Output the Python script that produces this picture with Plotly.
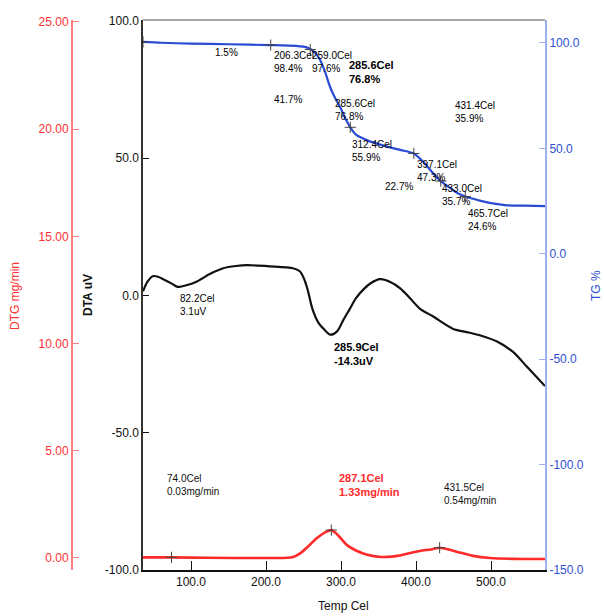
import numpy as np
import plotly.graph_objects as go

# ---------------- data ----------------
# TG curve (Temp Cel, TG %)
tg_temp = [36, 60, 100, 150, 206.3, 240, 255, 265, 272, 279, 285.6, 292, 299, 306, 312.4,
           320, 335, 350, 365, 380, 397.1, 410, 423, 433.0, 445, 455, 465.7, 475, 485,
           500, 521, 545, 572]
tg_val = [100.5, 100.1, 99.7, 99.4, 99.0, 98.6, 97.8, 95.5, 92.0, 86.0, 79.0, 74.0, 69.5,
          64.0, 60.0, 56.5, 53.8, 52.0, 50.5, 49.2, 47.6, 43.5, 38.1, 34.5, 31.4, 28.8,
          27.2, 26.2, 25.2, 24.0, 23.0, 22.8, 22.6]

# DTA curve (Temp Cel, uV)
dta_temp = [36, 42, 49, 56, 63, 75, 82.2, 95, 108, 125, 143, 160, 175, 205, 236, 245,
            250, 255, 262, 270, 278, 285.9, 295, 303, 312, 320, 330, 340, 352, 365, 379,
            392, 405, 423, 449, 470, 485, 508, 529, 548, 572]
dta_val = [1.5, 5.0, 7.0, 6.8, 5.9, 4.2, 3.1, 3.8, 5.1, 7.8, 9.9, 10.7, 11.0, 10.6, 9.9,
           8.8, 6.5, 2.6, -5.0, -10.0, -12.5, -14.3, -13.0, -9.0, -4.8, -1.0, 2.2, 4.5,
           5.9, 5.0, 2.6, -1.0, -4.8, -7.7, -12.1, -13.5, -14.5, -16.8, -20.5, -26.0, -33.0]

# DTG curve (Temp Cel, mg/min)
dtg_temp = [36, 74, 120, 200, 235, 245, 255, 268, 280, 287.1, 295, 308, 320, 335, 350,
            362, 375, 388, 405, 420, 431.5, 445, 460, 476, 499, 530, 572]
dtg_val = [0.03, 0.03, 0.01, 0.0, 0.03, 0.2, 0.5, 0.93, 1.22, 1.30, 1.1, 0.6, 0.35, 0.15,
           0.06, 0.05, 0.1, 0.2, 0.33, 0.4, 0.48, 0.38, 0.24, 0.1, 0.0, -0.04, -0.05]

# analysis markers
tg_mark_temp = [36, 206.3, 259.0, 312.4, 397.1, 433.0, 465.7]
dtg_mark_temp = [74.0, 287.1, 431.5]

# TG text labels: (text, Temp, TG, bold)
tg_labels = [
    ("1.5%", 129, 95.3, False),
    ("206.3Cel<br>98.4%", 208, 91.2, False),
    ("259.0Cel<br>97.6%", 259, 91.0, False),
    ("285.6Cel<br>76.8%", 308, 86.0, True),
    ("41.7%", 208, 73.0, False),
    ("285.6Cel<br>76.8%", 289.5, 68.2, False),
    ("312.4Cel<br>55.9%", 312, 48.6, False),
    ("397.1Cel<br>47.3%", 398.7, 39.5, False),
    ("22.7%", 356, 31.7, False),
    ("433.0Cel<br>35.7%", 432, 28.1, False),
    ("465.7Cel<br>24.6%", 466.7, 16.2, False),
    ("431.4Cel<br>35.9%", 449.3, 67.2, False),
]
dta_labels = [
    ("82.2Cel<br>3.1uV", 82.7, -3.5, False),
    ("285.9Cel<br>-14.3uV", 288, -21.4, True),
]
dtg_labels = [
    ("74.0Cel<br>0.03mg/min", 65.3, 3.4, False, "#111111"),
    ("287.1Cel<br>1.33mg/min", 294.7, 3.4, True, "#ff2b2b"),
    ("431.5Cel<br>0.54mg/min", 434.7, 3.0, False, "#111111"),
]

x_ticks = [100, 200, 300, 400, 500]
dta_ticks = [-100, -50, 0, 50, 100]
tg_ticks = [-150, -100, -50, 0, 50, 100]
dtg_ticks = [0, 5, 10, 15, 20, 25]

# ---------------- figure ----------------
FONT = "Liberation Sans, Arial, sans-serif"
RED = "#ff3030"
RED_AX = "#ff8080"
BLUE = "#2f4fd0"
BLUE_AX = "#9fb0f0"
BLACK = "#111111"

W, H = 604, 616
PT, PB = 20, 570           # plot top / bottom in pixels
x0, x1 = 143 / W, 545 / W


def py(pix):
    return (PB - pix) / (PB - PT)


fig = go.Figure()

fig.add_trace(go.Scatter(x=dtg_temp, y=dtg_val, mode="lines", yaxis="y3",
                         line=dict(color="#ff2a2a", width=2.6, shape="spline", smoothing=0.8),
                         hoverinfo="skip", showlegend=False))
fig.add_trace(go.Scatter(x=dta_temp, y=dta_val, mode="lines", yaxis="y",
                         line=dict(color=BLACK, width=2.2, shape="spline", smoothing=0.8),
                         hoverinfo="skip", showlegend=False))
fig.add_trace(go.Scatter(x=tg_temp, y=tg_val, mode="lines", yaxis="y2",
                         line=dict(color="#2a4bd4", width=2.2, shape="spline", smoothing=0.6),
                         hoverinfo="skip", showlegend=False))

fig.add_trace(go.Scatter(x=tg_mark_temp, y=np.interp(tg_mark_temp, tg_temp, tg_val),
                         mode="markers", yaxis="y2",
                         marker=dict(symbol="cross-thin", size=8, line=dict(color="#444", width=1)),
                         hoverinfo="skip", showlegend=False))
fig.add_trace(go.Scatter(x=dtg_mark_temp, y=np.interp(dtg_mark_temp, dtg_temp, dtg_val),
                         mode="markers", yaxis="y3",
                         marker=dict(symbol="cross-thin", size=8, line=dict(color="#444", width=1)),
                         hoverinfo="skip", showlegend=False))

annotations = []
for text, tx, ty, bold in tg_labels:
    annotations.append(dict(x=tx, y=ty, xref="x", yref="y2", text=f"<b>{text}</b>" if bold else text,
                            showarrow=False, xanchor="left", yanchor="middle", align="left",
                            font=dict(family=FONT, size=11 if bold else 10, color="#000000")))
for text, tx, ty, bold in dta_labels:
    annotations.append(dict(x=tx, y=ty, xref="x", yref="y", text=f"<b>{text}</b>" if bold else text,
                            showarrow=False, xanchor="left", yanchor="middle", align="left",
                            font=dict(family=FONT, size=11 if bold else 10, color="#000000")))
for text, tx, ty, bold, col in dtg_labels:
    annotations.append(dict(x=tx, y=ty, xref="x", yref="y3", text=f"<b>{text}</b>" if bold else text,
                            showarrow=False, xanchor="left", yanchor="middle", align="left",
                            font=dict(family=FONT, size=11 if bold else 10, color=col)))

# axis titles
annotations += [
    dict(x=15 / W, y=py(296), xref="paper", yref="paper", text="DTG mg/min", textangle=-90,
         showarrow=False, xanchor="center", yanchor="middle",
         font=dict(family=FONT, size=12, color=RED)),
    dict(x=88 / W, y=py(295), xref="paper", yref="paper", text="<b>DTA uV</b>", textangle=-90,
         showarrow=False, xanchor="center", yanchor="middle",
         font=dict(family=FONT, size=12, color=BLACK)),
    dict(x=596 / W, y=py(286), xref="paper", yref="paper", text="TG %", textangle=-90,
         showarrow=False, xanchor="center", yanchor="middle",
         font=dict(family=FONT, size=12, color=BLUE)),
    dict(x=343 / W, y=py(606), xref="paper", yref="paper", text="Temp Cel",
         showarrow=False, xanchor="center", yanchor="middle",
         font=dict(family=FONT, size=12, color=BLACK)),
]

fig.update_layout(
    width=W, height=H,
    margin=dict(l=0, r=0, t=PT, b=H - PB, autoexpand=False),
    paper_bgcolor="white", plot_bgcolor="white",
    font=dict(family=FONT, size=12, color=BLACK),
    showlegend=False,
    annotations=annotations,
    shapes=[dict(type="line", xref="x domain", yref="y domain", x0=0, x1=1, y0=1, y1=1,
                 line=dict(color="#888888", width=1.5))],
    xaxis=dict(domain=[x0, x1], range=[36, 572], tickvals=x_ticks,
               ticktext=[f"{v:.1f}" for v in x_ticks], ticks="inside", ticklen=9,
               tickcolor=BLACK, showline=True, linecolor=BLACK, linewidth=1.5,
               showgrid=False, zeroline=False, tickfont=dict(size=12, color=BLACK),
               automargin=False),
    yaxis=dict(range=[-100, 100.3], tickvals=dta_ticks, ticktext=[f"{v:.1f}" for v in dta_ticks],
               ticks="inside", ticklen=6, tickcolor=BLACK, showline=True, linecolor="#333333",
               linewidth=1.5, showgrid=False, zeroline=False, anchor="x",
               tickfont=dict(size=12, color=BLACK), automargin=False),
    yaxis2=dict(range=[-150, 110.9], tickvals=tg_ticks, ticktext=[f"{v:.1f}" for v in tg_ticks],
                overlaying="y", side="right", anchor="x",
                ticks="inside", ticklen=6, tickcolor=BLUE_AX, showline=True, linecolor=BLUE_AX,
                linewidth=2, showgrid=False, zeroline=False,
                tickfont=dict(size=12, color=BLUE), automargin=False),
    yaxis3=dict(range=[-0.56, 25.09], tickvals=dtg_ticks, ticktext=[f"{v:.2f}" for v in dtg_ticks],
                overlaying="y", side="left", anchor="free", position=72 / W,
                ticks="inside", ticklen=6, tickcolor=RED_AX, showline=True, linecolor=RED_AX,
                linewidth=2, showgrid=False, zeroline=False,
                tickfont=dict(size=12, color=RED), automargin=False),
)

fig.write_html("out.html", config={"displayModeBar": False},
               post_script="document.body.style.margin='0px';")
